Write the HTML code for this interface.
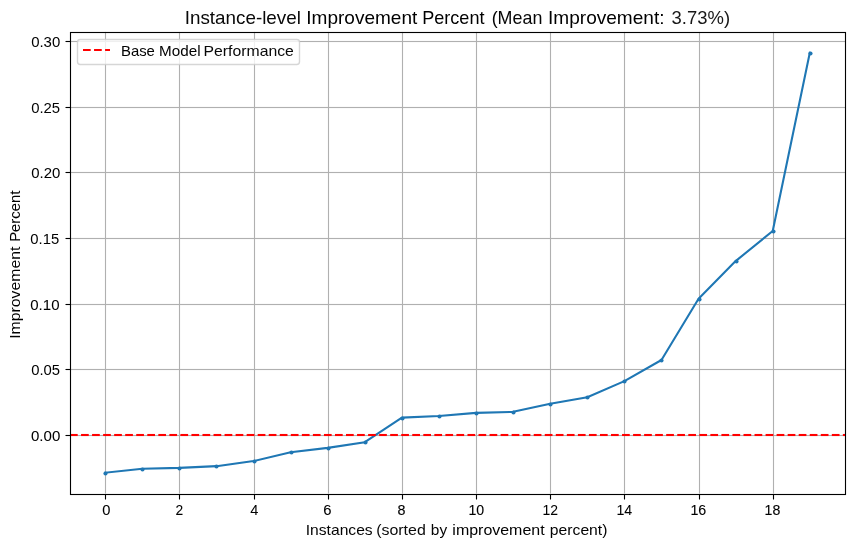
<!DOCTYPE html>
<html lang="en">
<head>
<meta charset="utf-8">
<title>Instance-level Improvement Percent</title>
<style>
html,body{margin:0;padding:0;background:#ffffff;}
body{width:855px;height:547px;overflow:hidden;font-family:"Liberation Sans",sans-serif;}
svg{display:block;}
svg text{font-family:"Liberation Sans",sans-serif;fill:#000000;white-space:pre;}
</style>
</head>
<body>
<svg width="855" height="547" viewBox="0 0 855 547">
<defs>
<filter id="gray" filterUnits="userSpaceOnUse" x="0" y="0" width="855" height="547"><feOffset dx="0" dy="0"/></filter>
<clipPath id="axclip"><rect x="70.028" y="31.722" width="775" height="462"/></clipPath>
</defs>
<rect x="0" y="0" width="855" height="547" fill="#ffffff"/>
<!-- grid -->
<g clip-path="url(#axclip)" stroke="#b0b0b0" stroke-width="1.111" fill="none">
<line x1="105.5" y1="31.72" x2="105.5" y2="493.72"/>
<line x1="179.5" y1="31.72" x2="179.5" y2="493.72"/>
<line x1="254.5" y1="31.72" x2="254.5" y2="493.72"/>
<line x1="328.5" y1="31.72" x2="328.5" y2="493.72"/>
<line x1="402.5" y1="31.72" x2="402.5" y2="493.72"/>
<line x1="476.5" y1="31.72" x2="476.5" y2="493.72"/>
<line x1="550.5" y1="31.72" x2="550.5" y2="493.72"/>
<line x1="624.5" y1="31.72" x2="624.5" y2="493.72"/>
<line x1="699.5" y1="31.72" x2="699.5" y2="493.72"/>
<line x1="773.5" y1="31.72" x2="773.5" y2="493.72"/>
<line x1="70.03" y1="435.5" x2="845.03" y2="435.5" stroke-width="3" stroke-opacity="0.065"/>
<line x1="70.03" y1="435.5" x2="845.03" y2="435.5"/>
<line x1="70.03" y1="369.5" x2="845.03" y2="369.5" stroke-width="3" stroke-opacity="0.065"/>
<line x1="70.03" y1="369.5" x2="845.03" y2="369.5"/>
<line x1="70.03" y1="304.5" x2="845.03" y2="304.5" stroke-width="3" stroke-opacity="0.065"/>
<line x1="70.03" y1="304.5" x2="845.03" y2="304.5"/>
<line x1="70.03" y1="238.5" x2="845.03" y2="238.5" stroke-width="3" stroke-opacity="0.065"/>
<line x1="70.03" y1="238.5" x2="845.03" y2="238.5"/>
<line x1="70.03" y1="172.5" x2="845.03" y2="172.5" stroke-width="3" stroke-opacity="0.065"/>
<line x1="70.03" y1="172.5" x2="845.03" y2="172.5"/>
<line x1="70.03" y1="107.5" x2="845.03" y2="107.5" stroke-width="3" stroke-opacity="0.065"/>
<line x1="70.03" y1="107.5" x2="845.03" y2="107.5"/>
<line x1="70.03" y1="41.5" x2="845.03" y2="41.5" stroke-width="3" stroke-opacity="0.065"/>
<line x1="70.03" y1="41.5" x2="845.03" y2="41.5"/>
</g>
<!-- data -->
<g clip-path="url(#axclip)">
<polyline points="105.26,472.72 142.34,468.69 179.42,467.90 216.50,466.16 253.58,461.08 290.66,452.19 327.74,447.88 364.82,442.17 401.91,417.59 438.99,415.93 476.07,412.87 513.15,411.85 550.23,403.84 587.31,397.21 624.39,381.09 661.48,359.99 698.56,298.73 735.64,261.07 772.72,231.01 809.80,52.72" fill="none" stroke="#1f77b4" stroke-width="2.083" stroke-linejoin="round" stroke-linecap="square"/>
<g fill="#1f77b4">
<circle cx="105.5" cy="473.5" r="2.085"/>
<circle cx="142.5" cy="469.5" r="2.085"/>
<circle cx="179.5" cy="468.5" r="2.085"/>
<circle cx="216.5" cy="466.5" r="2.085"/>
<circle cx="254.5" cy="461.5" r="2.085"/>
<circle cx="291.5" cy="452.5" r="2.085"/>
<circle cx="328.5" cy="448.5" r="2.085"/>
<circle cx="365.5" cy="442.5" r="2.085"/>
<circle cx="402.5" cy="418.5" r="2.085"/>
<circle cx="439.5" cy="416.5" r="2.085"/>
<circle cx="476.5" cy="413.5" r="2.085"/>
<circle cx="513.5" cy="412.5" r="2.085"/>
<circle cx="550.5" cy="404.5" r="2.085"/>
<circle cx="587.5" cy="397.5" r="2.085"/>
<circle cx="624.5" cy="381.5" r="2.085"/>
<circle cx="661.5" cy="360.5" r="2.085"/>
<circle cx="699.5" cy="299.5" r="2.085"/>
<circle cx="736.5" cy="261.5" r="2.085"/>
<circle cx="773.5" cy="231.5" r="2.085"/>
<circle cx="810.5" cy="53.5" r="2.085"/>
</g>
<line x1="70" y1="435" x2="845" y2="435" stroke="#ff0000" stroke-width="4" stroke-opacity="0.045" stroke-dasharray="7.708 3.333"/>
<line x1="70" y1="435" x2="845" y2="435" stroke="#ff0000" stroke-width="2.083" stroke-dasharray="7.708 3.333"/>
</g>
<!-- ticks and spines -->
<g stroke="#000000" stroke-width="1.111" fill="none">
<line x1="105.5" y1="494" x2="105.5" y2="499.5"/>
<line x1="179.5" y1="494" x2="179.5" y2="499.5"/>
<line x1="254.5" y1="494" x2="254.5" y2="499.5"/>
<line x1="328.5" y1="494" x2="328.5" y2="499.5"/>
<line x1="402.5" y1="494" x2="402.5" y2="499.5"/>
<line x1="476.5" y1="494" x2="476.5" y2="499.5"/>
<line x1="550.5" y1="494" x2="550.5" y2="499.5"/>
<line x1="624.5" y1="494" x2="624.5" y2="499.5"/>
<line x1="699.5" y1="494" x2="699.5" y2="499.5"/>
<line x1="773.5" y1="494" x2="773.5" y2="499.5"/>
<line x1="65.5" y1="435.5" x2="71" y2="435.5"/>
<line x1="65.5" y1="369.5" x2="71" y2="369.5"/>
<line x1="65.5" y1="304.5" x2="71" y2="304.5"/>
<line x1="65.5" y1="238.5" x2="71" y2="238.5"/>
<line x1="65.5" y1="172.5" x2="71" y2="172.5"/>
<line x1="65.5" y1="107.5" x2="71" y2="107.5"/>
<line x1="65.5" y1="41.5" x2="71" y2="41.5"/>
<rect x="70.5" y="32.5" width="775" height="462"/>
</g>
<!-- legend box -->
<g clip-path="url(#axclip)">
<rect x="77.5" y="39.5" width="222" height="25" rx="2.78" ry="2.78" fill="#ffffff" fill-opacity="0.8" stroke="#cccccc" stroke-opacity="0.8" stroke-width="1.389"/>
<line x1="83" y1="50" x2="110" y2="50" stroke="#ff0000" stroke-width="2.083" stroke-dasharray="7.708 3.333"/>
</g>
<!-- text -->
<g filter="url(#gray)">
<text y="24.00" font-size="17.75"><tspan x="184.77" textLength="116.11" lengthAdjust="spacingAndGlyphs" style="fill:#080808">Instance-level</tspan> <tspan x="306.33" textLength="111.00" lengthAdjust="spacingAndGlyphs">Improvement</tspan> <tspan x="422.23" textLength="62.22" lengthAdjust="spacingAndGlyphs">Percent</tspan> <tspan x="491.66" textLength="50.67" lengthAdjust="spacingAndGlyphs" style="fill:#060606">(Mean</tspan> <tspan x="548.07" textLength="116.42" lengthAdjust="spacingAndGlyphs">Improvement:</tspan> <tspan x="671.62" textLength="58.47" lengthAdjust="spacingAndGlyphs" style="fill:#181818">3.73%)</tspan></text>
<text y="535.00" font-size="14.50"><tspan x="305.77" textLength="66.89" lengthAdjust="spacingAndGlyphs" style="fill:#050505">Instances</tspan> <tspan x="376.17" textLength="49.63" lengthAdjust="spacingAndGlyphs" style="fill:#0a0a0a">(sorted</tspan> <tspan x="430.82" textLength="16.29" lengthAdjust="spacingAndGlyphs" style="fill:#040404">by</tspan> <tspan x="452.36" textLength="92.25" lengthAdjust="spacingAndGlyphs" style="fill:#020202">improvement</tspan> <tspan x="549.86" textLength="57.59" lengthAdjust="spacingAndGlyphs" style="fill:#030303">percent)</tspan></text>
<text transform="translate(20.00 338.50) rotate(-90)" y="0.00" font-size="14.50"><tspan x="-0.34" textLength="92.23" lengthAdjust="spacingAndGlyphs">Improvement</tspan> <tspan x="96.69" textLength="51.20" lengthAdjust="spacingAndGlyphs" stroke="#000000" stroke-width="0.04">Percent</tspan></text>
<text y="56.00" font-size="14.50"><tspan x="121.00" textLength="33.90" lengthAdjust="spacingAndGlyphs" style="fill:#020202">Base</tspan> <tspan x="159.12" textLength="41.41" lengthAdjust="spacingAndGlyphs" style="fill:#020202">Model</tspan> <tspan x="203.55" textLength="90.33" lengthAdjust="spacingAndGlyphs" style="fill:#080808">Performance</tspan></text>
<text y="515.00" font-size="14.85"><tspan x="102.21" textLength="8.18" lengthAdjust="spacingAndGlyphs" stroke="#000000" stroke-width="0.10">0</tspan></text>
<text y="515.00" font-size="14.85"><tspan x="175.39" textLength="7.69" lengthAdjust="spacingAndGlyphs" stroke="#000000" stroke-width="0.05">2</tspan></text>
<text y="515.00" font-size="14.85"><tspan x="250.14" textLength="8.12" lengthAdjust="spacingAndGlyphs" style="fill:#010101">4</tspan></text>
<text y="515.00" font-size="14.85"><tspan x="323.22" textLength="8.24" lengthAdjust="spacingAndGlyphs" stroke="#000000" stroke-width="0.11">6</tspan></text>
<text y="515.00" font-size="14.85"><tspan x="397.38" textLength="7.97" lengthAdjust="spacingAndGlyphs" stroke="#000000" stroke-width="0.13">8</tspan></text>
<text y="515.00" font-size="14.85"><tspan x="468.43" textLength="15.74" lengthAdjust="spacingAndGlyphs" stroke="#000000" stroke-width="0.12">10</tspan></text>
<text y="515.00" font-size="14.85"><tspan x="542.43" textLength="15.54" lengthAdjust="spacingAndGlyphs" stroke="#000000" stroke-width="0.04">12</tspan></text>
<text y="515.00" font-size="14.85"><tspan x="616.40" textLength="15.75" lengthAdjust="spacingAndGlyphs" stroke="#000000" stroke-width="0.04">14</tspan></text>
<text y="515.00" font-size="14.85"><tspan x="690.43" textLength="15.84" lengthAdjust="spacingAndGlyphs" stroke="#000000" stroke-width="0.12">16</tspan></text>
<text y="515.00" font-size="14.85"><tspan x="764.61" textLength="15.71" lengthAdjust="spacingAndGlyphs" stroke="#000000" stroke-width="0.12">18</tspan></text>
<text y="441.00" font-size="14.85"><tspan x="30.98" textLength="29.29" lengthAdjust="spacingAndGlyphs" stroke="#000000" stroke-width="0.06">0.00</tspan></text>
<text y="375.00" font-size="14.85"><tspan x="31.23" textLength="28.84" lengthAdjust="spacingAndGlyphs" stroke="#000000" stroke-width="0.01">0.05</tspan></text>
<text y="310.00" font-size="14.85"><tspan x="30.25" textLength="29.24" lengthAdjust="spacingAndGlyphs" stroke="#000000" stroke-width="0.05">0.10</tspan></text>
<text y="244.00" font-size="14.85"><tspan x="30.34" textLength="28.86" lengthAdjust="spacingAndGlyphs" stroke="#000000" stroke-width="0.01">0.15</tspan></text>
<text y="178.00" font-size="14.85"><tspan x="31.25" textLength="29.05" lengthAdjust="spacingAndGlyphs" stroke="#000000" stroke-width="0.03">0.20</tspan></text>
<text y="113.00" font-size="14.85"><tspan x="31.17" textLength="28.98" lengthAdjust="spacingAndGlyphs" style="fill:#040404">0.25</tspan></text>
<text y="47.00" font-size="14.85"><tspan x="31.17" textLength="29.09" lengthAdjust="spacingAndGlyphs" stroke="#000000" stroke-width="0.01">0.30</tspan></text>
</g>
</svg>
</body>
</html>
